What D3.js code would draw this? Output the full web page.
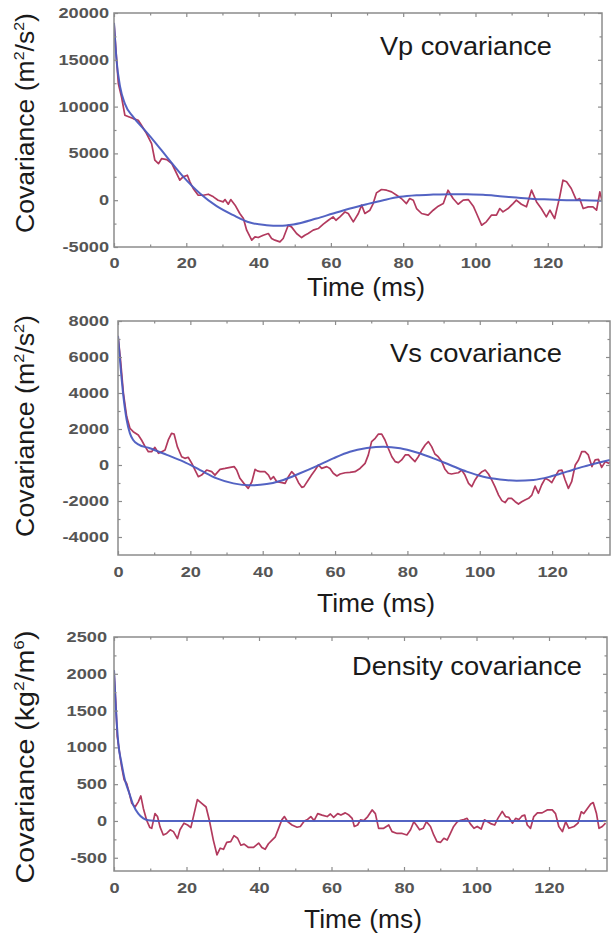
<!DOCTYPE html>
<html><head><meta charset="utf-8">
<script src="https://cdn.jsdelivr.net/npm/d3@7"></script>
<style>body{margin:0;background:#fff}svg{display:block}</style>
</head><body><svg id="c" width="611" height="936"></svg>
<script>
// ---------- data ----------
const timeTicks = [0, 20, 40, 60, 80, 100, 120];
const timeMinorTicks = [10, 30, 50, 70, 90, 110, 130];
const vpTicks = [-5000, 0, 5000, 10000, 15000, 20000];
const vpMinorTicks = [-2500, 2500, 7500, 12500, 17500];
const vsTicks = [-4000, -2000, 0, 2000, 4000, 6000, 8000];
const vsMinorTicks = [-5000, -3000, -1000, 1000, 3000, 5000, 7000];
const rhoTicks = [-500, 0, 500, 1000, 1500, 2000, 2500];
const rhoMinorTicks = [-250, 250, 750, 1250, 1750, 2250];
const panelTitles = ["Vp covariance", "Vs covariance", "Density covariance"];
const xAxisTitle = "Time (ms)";

const vpMeasured = [[0,18940],[1.2,12460],[2.1,11000],[3,9080],[5.3,8720],[6.7,8540],[7.6,8000],[9,7120],[10.4,6050],[11.3,4270],[12.3,3900],[13.2,4450],[14.6,4340],[16,3900],[16.9,3200],[18.2,2140],[19.1,2490],[20.3,2670],[21,1960],[21.9,1250],[23.3,530],[24.7,530],[26.1,640],[27.5,360],[28.8,0],[30.2,-180],[30.7,70],[31.6,-430],[32.3,70],[33.5,-530],[34.8,-1420],[35.8,-1960],[36.7,-3200],[38.1,-4270],[39,-3910],[39.9,-3990],[41.3,-3740],[42.7,-3560],[43.6,-4090],[44.5,-4270],[45.9,-4450],[46.8,-4090],[48.2,-2670],[49.1,-2850],[50.5,-3560],[51.9,-3990],[52.8,-3740],[53.7,-3560],[55.1,-3200],[56.5,-3030],[57.9,-2560],[59.3,-2140],[60.6,-1780],[61.4,-2140],[62.5,-1780],[63.9,-1250],[64.8,-1420],[66.2,-2310],[67.6,-1420],[68.5,-530],[69.4,-1420],[70.8,-1070],[71.7,-360],[72.6,780],[74,1140],[75.4,1070],[76.8,890],[78.2,530],[79.5,180],[80.9,-360],[81.8,180],[82.8,0],[83.7,-890],[85.1,-1420],[86.9,-1600],[88.3,-1070],[89.7,-640],[91.1,-360],[92.4,1070],[93.8,180],[95.2,-430],[96.6,0],[98,70],[99.4,-640],[100.3,-1420],[101.7,-2670],[103,-2310],[104.4,-1600],[105.8,-1600],[106.7,-890],[107.6,-1250],[109,-890],[110.4,-360],[111.3,0],[112.7,-430],[114.1,-710],[115.5,1070],[116.9,-180],[118.2,-890],[119.6,-1780],[120.6,-1070],[121.9,-1960],[123.3,360],[124.2,2140],[125.2,1960],[126.5,1250],[127.9,0],[128.8,180],[129.8,-890],[131.2,-710],[132.5,-710],[133.5,-1070],[134.4,890],[135,0]];
const vpModel = [[0,18940],[0.7,14950],[1.7,12100],[3,10320],[5.3,8900],[8.1,7650],[10.9,6400],[14.6,4630],[19.2,2490],[23.8,710],[28.4,-640],[33,-1600],[37.6,-2390],[42.2,-2670],[45.9,-2740],[49.6,-2600],[56,-1960],[60.6,-1420],[65.3,-890],[69.9,-430],[74.5,0],[79.1,360],[83.7,530],[88.3,600],[92.9,640],[97.5,640],[102.1,570],[106.7,430],[111.3,280],[115.9,140],[120.6,70],[125.2,0],[130,0],[135,-70]];

const vsMeasured = [[0,7170],[0.7,5830],[1.5,3980],[2.4,2690],[3.3,2040],[4.2,1850],[5.6,1670],[6.5,1390],[7.5,1020],[8.4,740],[9.3,740],[10.2,980],[11.2,650],[12.1,740],[13,830],[13.9,1390],[14.8,1760],[15.5,1720],[16.4,1020],[17.6,460],[18.5,370],[19.4,430],[20.4,90],[21.3,-280],[22.2,-650],[23.1,-560],[24.5,-280],[25.9,-370],[26.8,-560],[28.2,-240],[29.6,-190],[31,-130],[32.1,-90],[32.8,-280],[33.7,-740],[34.8,-1020],[36,-1300],[37,-930],[37.9,-240],[38.5,-330],[39.3,-370],[40.6,-370],[41.6,-560],[42.2,-800],[43,-650],[43.9,-930],[45.3,-980],[46.2,-1020],[47.1,-650],[48,-370],[48.9,-560],[49.9,-980],[50.8,-1240],[51.4,-1200],[52.6,-830],[53.5,-560],[54.5,-280],[55.4,0],[56.3,-190],[57.7,-90],[58.6,-190],[59.5,-460],[60.5,-610],[61.4,-500],[62.8,-430],[64.1,-410],[65.5,-370],[66.9,-190],[68.3,90],[69.2,560],[70.1,1300],[71.1,1480],[72,1720],[72.9,1720],[73.8,1390],[74.7,930],[75.7,460],[76.6,190],[77.5,130],[78.4,280],[79.4,560],[80.3,560],[81.2,370],[82.1,190],[83,460],[84,830],[84.9,1110],[85.8,1300],[86.7,1020],[87.6,610],[88.5,460],[89.5,190],[90.4,-240],[91.3,-460],[92.2,-500],[93.2,-460],[94.1,-430],[95,-280],[95.9,-560],[96.9,-1020],[97.8,-1200],[98.7,-830],[99.6,-560],[100.6,-370],[101.5,-280],[102.4,-500],[103.3,-830],[104.2,-1200],[105.2,-1670],[106.1,-1980],[107,-2090],[107.9,-1850],[108.8,-1850],[109.8,-2040],[110.7,-2170],[111.6,-2040],[112.5,-1940],[113.5,-1850],[114.4,-1670],[115.3,-1170],[116.2,-1570],[117.1,-1110],[118.1,-740],[119,-830],[119.9,-980],[120.8,-650],[121.8,-310],[122.7,-280],[123.6,-830],[124.5,-1300],[125.4,-930],[126.4,0],[127.3,280],[128.2,740],[129.1,740],[130,560],[131,-90],[131.9,280],[132.8,310],[133.7,-130],[134.7,190],[135.6,90],[136,150]];
const vsModel = [[0,7170],[0.7,5460],[1.5,3800],[2.4,2500],[3.3,1760],[4.2,1390],[5.6,1150],[8.8,930],[13.5,560],[18.1,190],[22.7,-280],[27.3,-740],[31.9,-1020],[36.5,-1130],[41.1,-1060],[45.7,-830],[50.3,-460],[54.9,-60],[59.5,370],[64.1,740],[68.8,940],[73.4,1020],[78,930],[82.6,690],[87.2,370],[91.8,0],[96.4,-370],[101,-650],[105.6,-800],[110.2,-870],[114.8,-830],[119.4,-650],[124.1,-370],[128.7,-90],[133.3,150],[136,280]];

const rhoMeasured = [[0,2030],[0.5,1600],[0.9,1150],[1.5,940],[2.1,740],[2.8,560],[3.5,510],[4.2,380],[4.9,240],[5.8,190],[6.7,260],[7.4,340],[8.1,170],[9,10],[9.9,-90],[10.4,-100],[11.3,100],[12,60],[12.7,-80],[13.6,-190],[14.5,-170],[15.5,-120],[16.4,-145],[17.5,-240],[18.2,-120],[19.3,-30],[20.3,-55],[21.2,-90],[22.1,100],[23,290],[24.2,240],[25.4,190],[26.3,10],[27.4,-260],[28.4,-460],[29.3,-370],[30.2,-385],[31.1,-290],[32.2,-280],[33.1,-200],[34.1,-235],[35,-330],[35.9,-315],[37.1,-360],[38.5,-360],[39.9,-300],[40.8,-360],[41.7,-385],[42.6,-310],[43.6,-260],[44.5,-215],[45.4,-100],[46.3,15],[47,60],[47.9,-10],[49.1,-55],[50.5,-85],[51.4,-75],[52.5,0],[53.4,20],[54.3,60],[55.2,5],[56.2,100],[57.4,80],[58.8,60],[59.7,95],[60.6,50],[61.7,100],[62.6,80],[63.8,110],[64.8,80],[65.7,35],[66.3,-75],[67.2,-55],[68,15],[68.9,5],[70,60],[71.2,150],[72.1,100],[73,-100],[74.4,-100],[75.8,-55],[76.7,-145],[78.1,-170],[79.5,-170],[80.8,-190],[81.8,-120],[82.7,-10],[83.4,-55],[84.3,-120],[85.3,-100],[86.2,-10],[87.3,-75],[88.2,-190],[89.1,-280],[90.1,-290],[91,-235],[91.9,-260],[92.8,-170],[93.7,-75],[94.7,-10],[95.6,10],[96.5,20],[97.4,35],[98.3,-40],[99.3,-100],[100.2,-75],[101.3,-110],[102.2,15],[103.1,-10],[104.1,-40],[105,-55],[105.9,35],[107.1,130],[108,60],[108.9,50],[109.9,-30],[110.8,35],[111.7,20],[112.6,70],[113.3,80],[114,-55],[114.9,-100],[115.8,60],[116.8,110],[118.1,110],[119.5,150],[120.9,150],[121.8,100],[122.7,-75],[123.7,-145],[124.6,-10],[125.5,-100],[126.9,-75],[128,-30],[128.9,125],[129.6,100],[130.6,170],[131.5,230],[132.2,250],[133.1,100],[133.8,-100],[134.7,-75],[135.6,-30]];
const rhoModel = [[0,2050],[0.5,1550],[1.2,1050],[2.1,780],[3,560],[4.2,380],[5.3,220],[6.7,100],[8.1,35],[9.5,10],[11.8,0],[20,0],[40,0],[60,0],[80,0],[100,0],[120,0],[136,0]];

// ---------- layout ----------
const svg = d3.select("#c");
const FONT = "'Liberation Sans', Arial, Helvetica, sans-serif";
const RED = "#b23a5e", BLUE = "#4a5bc0", FRAME = "#8c8c8c";

const panels = [
  {left:114, top:13, right:602, bottom:247, xDomain:[0,135], yDomain:[-5000,20000], yTicks:vpTicks, yMinor:vpMinorTicks,
   measured:vpMeasured, model:vpModel, title:panelTitles[0], titleX:380, titleY:55, titleW:172,
   yPad:5, xPad:11, ylab:["m","2","/s","2"], ylabY:123, ylabW:220, xlabX:366, xlabY:296},
  {left:118, top:321, right:610, bottom:555, xDomain:[0,136], yDomain:[-5000,8000], yTicks:vsTicks, yMinor:vsMinorTicks,
   measured:vsMeasured, model:vsModel, title:panelTitles[1], titleX:390, titleY:362, titleW:172,
   yPad:9, xPad:12, ylab:["m","2","/s","2"], ylabY:426, ylabW:222, xlabX:376, xlabY:612},
  {left:114, top:637, right:607, bottom:871, xDomain:[0,136], yDomain:[-680,2500], yTicks:rhoTicks, yMinor:rhoMinorTicks,
   measured:rhoMeasured, model:rhoModel, title:panelTitles[2], titleX:352, titleY:675, titleW:230,
   yPad:7, xPad:12, ylab:["kg","2","/m","6"], ylabY:757, ylabW:253, xlabX:363, xlabY:928}
];

function fitWidth(sel, target, base) {
  const len = sel.node().getComputedTextLength();
  sel.attr("transform", base + ` scale(${target/len},1)`);
}

panels.forEach((p, i) => {
  const w = p.right - p.left, h = p.bottom - p.top;
  const x = d3.scaleLinear().domain(p.xDomain).range([0, w]);
  const y = d3.scaleLinear().domain(p.yDomain).range([h, 0]);
  const g = svg.append("g").attr("transform", `translate(${p.left},${p.top})`);

  g.append("clipPath").attr("id", "clip" + i).append("rect").attr("width", w).attr("height", h);
  const plot = g.append("g").attr("clip-path", `url(#clip${i})`);
  plot.append("path").datum(p.measured)
    .attr("d", d3.line().x(d => x(d[0])).y(d => y(d[1])))
    .attr("fill", "none").attr("stroke", RED).attr("stroke-width", 1.7).attr("stroke-linejoin", "round");
  plot.append("path").datum(p.model)
    .attr("d", d3.line().curve(d3.curveMonotoneX).x(d => x(d[0])).y(d => y(d[1])))
    .attr("fill", "none").attr("stroke", BLUE).attr("stroke-width", 2).attr("opacity", 0.95);

  g.append("rect").attr("width", w).attr("height", h).attr("fill", "none")
    .attr("stroke", FRAME).attr("stroke-width", 1.5);

  const styleTicks = s => { s.select(".domain").remove(); s.selectAll("line").attr("stroke", FRAME).attr("stroke-width", 1.2); };
  const tickAxis = (axis, vals, size, tr) => g.append("g").attr("transform", tr)
    .call(axis.tickValues(vals).tickSize(size).tickFormat("")).call(styleTicks);
  tickAxis(d3.axisBottom(x), timeTicks, -4, `translate(0,${h})`);
  tickAxis(d3.axisBottom(x), timeMinorTicks, -2.5, `translate(0,${h})`);
  tickAxis(d3.axisTop(x), timeTicks, -4, `translate(0,0)`);
  tickAxis(d3.axisTop(x), timeMinorTicks, -2.5, `translate(0,0)`);
  tickAxis(d3.axisLeft(y), p.yTicks, -4, `translate(0,0)`);
  tickAxis(d3.axisLeft(y), p.yMinor.filter(v => v > p.yDomain[0]), -2.5, `translate(0,0)`);
  tickAxis(d3.axisRight(y), p.yTicks, -4, `translate(${w},0)`);
  tickAxis(d3.axisRight(y), p.yMinor.filter(v => v > p.yDomain[0]), -2.5, `translate(${w},0)`);

  const SX = 1.3;
  const xl = g.append("g").attr("transform", `translate(0,${h})`)
    .call(d3.axisBottom(x).tickValues(timeTicks).tickSize(0).tickPadding(p.xPad).tickFormat(d => String(d)));
  xl.select(".domain").remove();
  xl.attr("font-size", 14).attr("font-family", FONT).attr("font-weight", "bold");
  xl.selectAll("text").attr("fill", "#555").attr("transform", `scale(${SX},1)`);

  const yl = g.append("g")
    .call(d3.axisLeft(y).tickValues(p.yTicks).tickSize(0).tickPadding(p.yPad / SX).tickFormat(d => String(d)));
  yl.select(".domain").remove();
  yl.attr("font-size", 14).attr("font-family", FONT).attr("font-weight", "bold");
  yl.selectAll("text").attr("fill", "#555").attr("transform", `scale(${SX},1)`);

  // panel title
  const t = svg.append("text").attr("x", 0).attr("y", 0).attr("font-family", FONT)
    .attr("font-size", 25).attr("fill", "#1a1a1a").text(p.title);
  fitWidth(t, p.titleW, `translate(${p.titleX},${p.titleY})`);

  // x axis title
  const xt = svg.append("text").attr("text-anchor", "middle").attr("font-family", FONT)
    .attr("font-size", 25).attr("fill", "#1a1a1a").text(xAxisTitle);
  fitWidth(xt, 118, `translate(${p.xlabX},${p.xlabY})`);

  // y axis title with superscripts
  const yt = svg.append("text").attr("text-anchor", "middle").attr("font-family", FONT)
    .attr("font-size", 25).attr("fill", "#1a1a1a");
  yt.append("tspan").text("Covariance (" + p.ylab[0]);
  yt.append("tspan").attr("font-size", 15).attr("dy", -10).text(p.ylab[1]);
  yt.append("tspan").attr("dy", 10).text(p.ylab[2]);
  yt.append("tspan").attr("font-size", 15).attr("dy", -10).text(p.ylab[3]);
  yt.append("tspan").attr("dy", 10).text(")");
  fitWidth(yt, p.ylabW, `translate(34,${p.ylabY}) rotate(-90)`);
});
</script></body></html>
